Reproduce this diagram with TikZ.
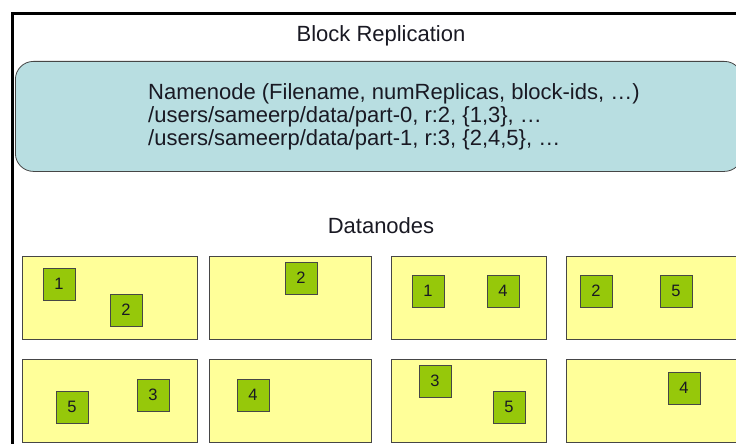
\documentclass[tikz,border=0pt]{standalone}
\usepackage{fontspec}
\setmainfont{Liberation Sans}
\definecolor{nnblue}{RGB}{184,222,225}
\definecolor{dnyellow}{RGB}{255,255,153}
\definecolor{blkgreen}{RGB}{150,200,10}
\definecolor{edgegray}{RGB}{70,70,70}
\definecolor{txt}{RGB}{25,25,35}
\begin{document}
\begin{tikzpicture}[x=1pt,y=-1pt,
  frame/.style={draw=black,line width=3pt},
  nnbox/.style={draw=edgegray,line width=0.8pt,fill=nnblue,rounded corners=18pt,inner sep=0pt,anchor=north west,minimum width=727pt,minimum height=110pt},
  dnbox/.style={draw=edgegray,line width=1pt,fill=dnyellow,inner sep=0pt,anchor=north west,minimum height=83pt},
  blk/.style={draw=edgegray,line width=0.8pt,fill=blkgreen,minimum size=32pt,inner sep=0pt,text=txt,font=\fontsize{16.5}{16.5}\selectfont},
  title/.style={text=txt,font=\fontsize{22}{22}\selectfont,inner sep=0pt}]
\useasboundingbox (0,0) rectangle (736,444);
\clip (0,0) rectangle (736,444);
\fill[white] (0,0) rectangle (736,444);
\draw[frame] (12.5,14) rectangle (800,500);
\node[title,anchor=base] (ttl) at (381,42) {Block Replication};
\node[nnbox] (nn) at (15,61) {};
\node[title,anchor=north west,align=left,font=\fontsize{22}{23}\selectfont] (nntext) at (148,83)
  {Namenode (Filename, numReplicas, block-ids, \dots)\\
   /users/sameerp/data/part-0, r:2, \{1,3\}, \dots\\
   /users/sameerp/data/part-1, r:3, \{2,4,5\}, \dots};
\node[title,anchor=base] (dntitle) at (381,233) {Datanodes};
% datanodes row 1
\node[dnbox,minimum width=175pt] (d1) at (22,256) {};
\node[dnbox,minimum width=162pt] (d2) at (209,256) {};
\node[dnbox,minimum width=155pt] (d3) at (391,256) {};
\node[dnbox,minimum width=200pt] (d4) at (566,256) {};
% datanodes row 2
\node[dnbox,minimum width=175pt] (d5) at (22,359) {};
\node[dnbox,minimum width=162pt] (d6) at (209,359) {};
\node[dnbox,minimum width=155pt] (d7) at (391,359) {};
\node[dnbox,minimum width=200pt] (d8) at (566,359) {};
% blocks
\node[blk] (b11) at (59,284) {1};
\node[blk] (b12) at (126,310) {2};
\node[blk] (b22) at (301,278) {2};
\node[blk] (b31) at (428,291) {1};
\node[blk] (b34) at (503,291) {4};
\node[blk] (b42) at (596,291) {2};
\node[blk] (b45) at (676,291) {5};
\node[blk] (b55) at (72,407) {5};
\node[blk] (b53) at (153,395) {3};
\node[blk] (b64) at (253,395) {4};
\node[blk] (b73) at (435,381) {3};
\node[blk] (b75) at (509,407) {5};
\node[blk] (b84) at (684,388) {4};
\end{tikzpicture}
\end{document}
